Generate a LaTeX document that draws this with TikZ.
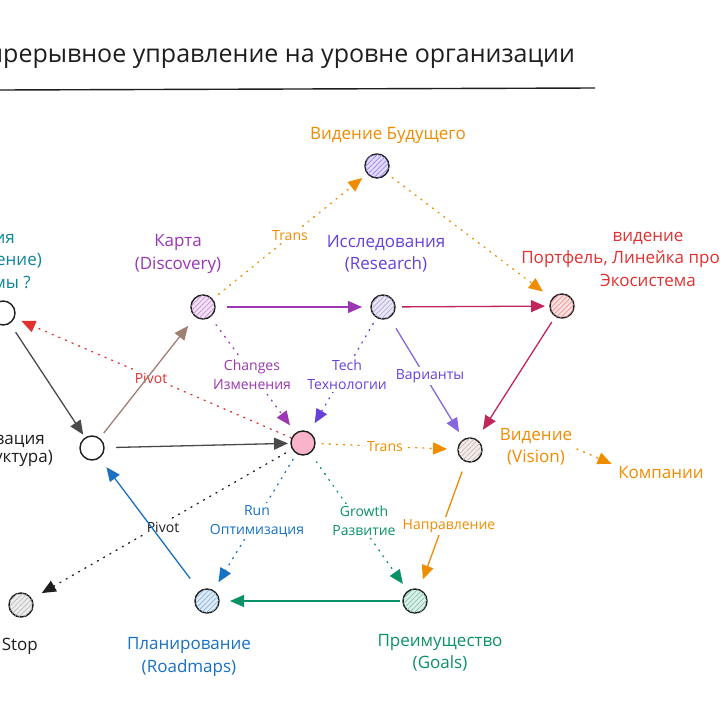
\documentclass[tikz,border=0pt]{standalone}
\usepackage{fontspec}
\setmainfont{Open Sans}
\usetikzlibrary{arrows.meta,patterns.meta}
\definecolor{ink}{HTML}{1E1E1E}
\definecolor{orng}{HTML}{F08C00}
\definecolor{purp}{HTML}{9C36B5}
\definecolor{indg}{HTML}{6741D9}
\definecolor{crim}{HTML}{C2255C}
\definecolor{redd}{HTML}{E03131}
\definecolor{tealc}{HTML}{0C8599}
\definecolor{grn}{HTML}{099268}
\definecolor{blu}{HTML}{1971C2}
\definecolor{brwn}{HTML}{A18072}
\definecolor{gry}{HTML}{4A4A4A}
\definecolor{pinkc}{HTML}{F9B4CB}
\tikzset{
  vtx/.style={circle,draw=ink,line width=1.4pt,minimum size=24pt,inner sep=0pt,outer sep=0pt,fill=white},
  hatch/.style={vtx,fill=#1!14,postaction={pattern={Lines[angle=45,distance=3.5pt,line width=0.7pt]},pattern color=#1!55}},
  lbl/.style={align=center,font=\fontsize{17}{22.5}\selectfont,inner sep=0pt},
  elbl/.style={align=center,font=\fontsize{14}{19}\selectfont,inner sep=2pt,fill=white},
  arr/.style={line width=1.3pt,-{Triangle[length=14pt,width=12pt]}},
  dotarr/.style={arr,line cap=round,dash pattern=on 1.2pt off 6pt},
}
\begin{document}
\begin{tikzpicture}[x=1pt,y=-1pt]
\useasboundingbox (0,0) rectangle (720,720);
\clip (0,0) rectangle (720,720);
\fill[white] (0,0) rectangle (720,720);

% title
\node[anchor=base east,inner sep=0pt,font=\fontsize{25}{30}\selectfont,text=ink] (title) at (575,62) {Непрерывное управление на уровне организации};
\draw[ink,line width=1.4pt] (0,90) -- (595,88);

% vertices
\node[vtx] (a) at (3,313) {};
\node[vtx] (org) at (92,448) {};
\node[hatch=purp] (karta) at (203,307) {};
\node[hatch=indg!60!gray] (res) at (383,307) {};
\node[hatch=redd] (port) at (562,306) {};
\node[hatch=blue!60!purp] (fut) at (377,166) {};
\node[vtx,fill=pinkc] (ctr) at (303,443) {};
\node[hatch=brwn] (vis) at (470,450) {};
\node[hatch=grn] (goals) at (415,601) {};
\node[hatch=blu] (road) at (207,601) {};
\node[hatch=gray] (stop) at (21,605) {};

% node labels
\node[lbl,text=orng] (futl) at (388,135) {Видение Будущего};
\node[lbl,text=purp] (kartal) at (178,254) {Карта\\(Discovery)};
\node[lbl,text=indg] (resl) at (386,254) {Исследования\\(Research)};
\node[lbl,text=redd] (portl) at (648,259) {видение\\Портфель, Линейка продуктов\\Экосистема};
\node[lbl,text=orng] (visl) at (536,447) {Видение\\(Vision)};
\node[lbl,text=orng] (komp) at (661,473) {Компании};
\node[lbl,text=tealc,anchor=base east] (al1) at (15,243) {Миссия};
\node[lbl,text=tealc,anchor=base east] (al2) at (42,265) {(Предназначение)};
\node[lbl,text=tealc,anchor=base east] (al3) at (31,288) {Зачем мы ?};
\node[lbl,text=ink,anchor=base east] (orgl1) at (45,444) {Организация};
\node[lbl,text=ink,anchor=base east] (orgl2) at (53,462) {(Структура)};
\node[lbl,text=ink,anchor=base east] (stopl) at (38,650) {Stop};
\node[lbl,text=blu] (roadl) at (189,657) {Планирование\\(Roadmaps)};
\node[lbl,text=grn] (goalsl) at (440,653) {Преимущество\\(Goals)};

% dotted connectors
\draw[dotarr,orng,shorten <=8pt,shorten >=7pt] (karta) -- (fut);
\draw[dotarr,orng,shorten <=7pt,shorten >=12pt] (fut) -- (port);
\draw[dotarr,purp,shorten <=10pt,shorten >=10pt] (karta) -- (ctr);
\draw[dotarr,indg,shorten <=7pt,shorten >=11pt] (res) -- (ctr);
\draw[dotarr,redd,shorten <=1pt,shorten >=8pt] (ctr) -- (a);
\draw[dotarr,orng,shorten <=7pt,shorten >=11pt] (ctr) -- (vis);
\draw[dotarr,ink,shorten <=8pt,shorten >=12pt] (ctr) -- (stop);
\draw[dotarr,blu,shorten <=7pt,shorten >=10pt] (ctr) -- (road);
\draw[dotarr,grn,shorten <=11pt,shorten >=9pt] (ctr) -- (goals);
\draw[dotarr,orng,shorten <=5pt,shorten >=7pt] (visl.east) -- (komp.north west);

% solid connectors
\draw[arr,gry,shorten <=11pt,shorten >=4pt] (a) -- (org);
\draw[arr,gry,shorten <=12pt,shorten >=3pt] (org) -- (ctr);
\draw[arr,purp,shorten <=12pt,shorten >=9pt] (karta) -- (res);
\draw[arr,crim,shorten <=7pt,shorten >=5pt] (res) -- (port);
\draw[arr,crim,shorten <=7pt,shorten >=12pt] (port) -- (vis);
\draw[arr,indg!80,shorten <=13pt,shorten >=9pt] (res) -- (vis);
\draw[arr,orng,shorten <=11pt,shorten >=11pt] (vis) -- (goals);
\draw[arr,grn,shorten <=3pt,shorten >=11pt] (goals) -- (road);

% edge labels
\node[elbl,text=orng] (t1) at (290,236) {Trans};
\node[elbl,text=purp] (chg) at (252,375) {Changes\\Изменения};
\node[elbl,text=indg] (tech) at (347,375) {Tech\\Технологии};
\node[elbl,text=indg] (var) at (430,376) {Варианты};
\node[elbl,text=redd] (piv1) at (151,378) {Pivot};
\node[elbl,text=orng] (t2) at (385,447) {Trans};
\node[elbl,text=ink] (piv2) at (163,527) {Pivot};
\node[elbl,text=blu] (run) at (257,521) {Run\\Оптимизация};
\node[elbl,text=grn] (grow) at (364,521) {Growth\\Развитие};
\node[elbl,text=orng] (napr) at (449,526) {Направление};

% connectors drawn over labels
\draw[arr,brwn,shorten <=7pt,shorten >=12pt] (org) -- (karta);
\draw[arr,blu,shorten <=16pt,shorten >=12pt] (road) -- (org);
\end{tikzpicture}
\end{document}
